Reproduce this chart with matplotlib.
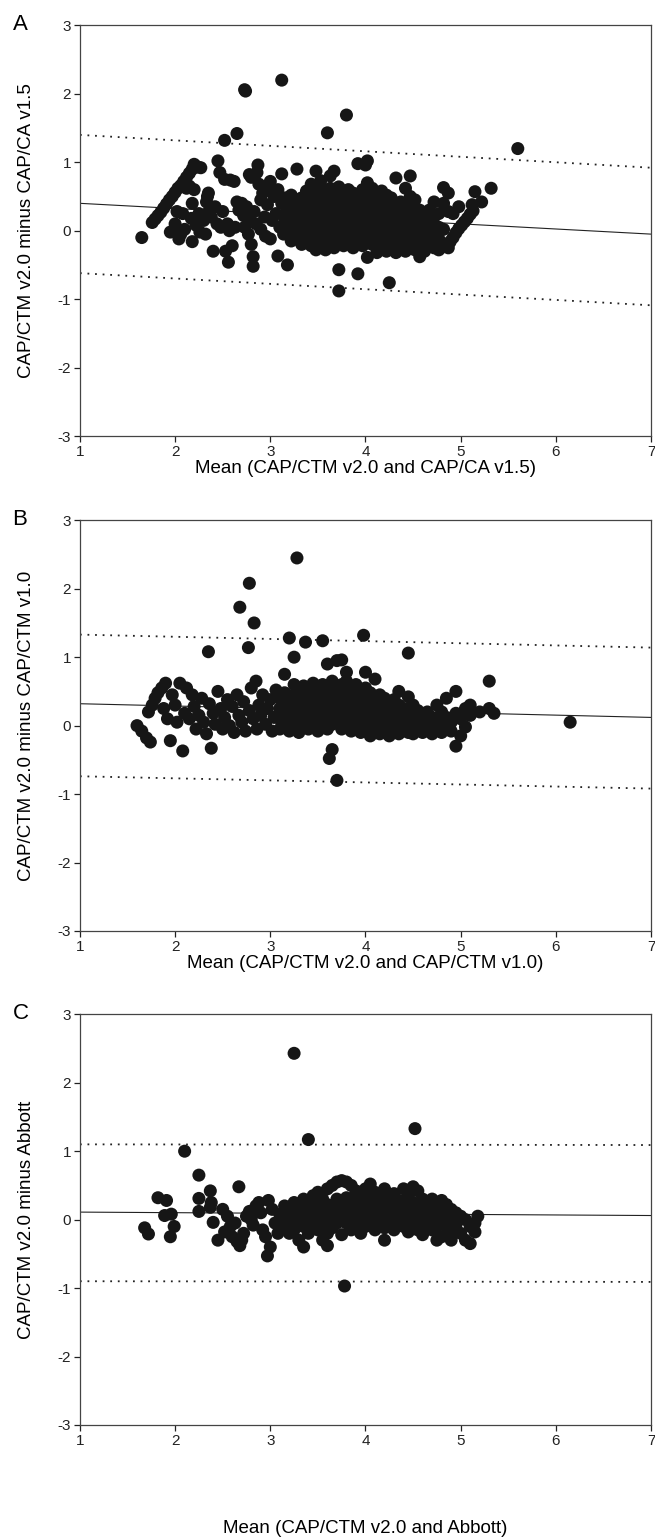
import numpy as np
import matplotlib
matplotlib.use("Agg")
import matplotlib.pyplot as plt

plt.rcParams['font.family'] = ['Liberation Sans', 'DejaVu Sans']
plt.rcParams['axes.unicode_minus'] = False

# ---------------- Panel A: v2.0 vs CAP/CA v1.5 ----------------
puntos_a = [
    (1.65, -0.10),
    (1.76, 0.12), (1.79, 0.17), (1.82, 0.22), (1.85, 0.27), (1.88, 0.33), (1.91, 0.39),
    (1.94, 0.45), (1.97, 0.50), (2.00, 0.56), (2.03, 0.62), (2.06, 0.66), (2.09, 0.72),
    (2.12, 0.78), (2.15, 0.84), (2.18, 0.90), (2.20, 0.97), (2.24, 0.93), (2.27, 0.92),
    (1.95, -0.02), (2.00, 0.10), (2.02, 0.28), (2.04, -0.12), (2.06, -0.05), (2.08, 0.25),
    (2.10, 0.02), (2.12, 0.62), (2.15, 0.65), (2.17, 0.18), (2.18, 0.40), (2.18, -0.16),
    (2.20, 0.60), (2.22, 0.08), (2.25, 0.25), (2.26, -0.02), (2.30, 0.15), (2.32, -0.05),
    (2.33, 0.42), (2.34, 0.50), (2.35, 0.55), (2.36, 0.30), (2.38, 0.20), (2.40, -0.30),
    (2.42, 0.35), (2.44, 0.10), (2.45, 1.02), (2.47, 0.85), (2.48, 0.05), (2.50, 0.28),
    (2.52, 0.75), (2.53, -0.30), (2.55, 0.10), (2.56, -0.46), (2.57, 0.00), (2.58, 0.74),
    (2.60, -0.22), (2.62, 0.72), (2.63, 0.05), (2.65, 0.42), (2.67, 0.30), (2.70, 0.40),
    (2.72, 0.22), (2.73, 0.05), (2.75, 0.35), (2.77, -0.05), (2.78, 0.82), (2.79, 0.15),
    (2.80, -0.20), (2.80, 0.78), (2.82, -0.38), (2.82, -0.52), (2.83, 0.28), (2.85, 0.10),
    (2.86, 0.85), (2.87, 0.96), (2.88, 0.68), (2.90, 0.45), (2.90, 0.02), (2.92, 0.55),
    (2.94, 0.20), (2.95, -0.08), (2.97, 0.38), (2.98, 0.62), (3.00, 0.72), (3.00, -0.12),
    (3.02, 0.15), (3.04, 0.50), (3.06, 0.25), (3.08, -0.37), (3.08, 0.60), (3.10, 0.05),
    (3.12, 0.83), (3.12, 0.40), (3.14, -0.05), (3.15, 0.18), (3.16, 0.48), (3.18, -0.50),
    (3.18, 0.30), (3.20, 0.10),
    (3.22, -0.15), (3.22, 0.02), (3.22, 0.20), (3.22, 0.38), (3.22, 0.52),
    (3.28, -0.05), (3.28, 0.12), (3.28, 0.28), (3.28, 0.45), (3.28, 0.90),
    (3.33, -0.20), (3.33, -0.02), (3.33, 0.15), (3.33, 0.32), (3.33, 0.48),
    (3.38, -0.12), (3.38, 0.05), (3.38, 0.22), (3.38, 0.40), (3.38, 0.58),
    (3.43, -0.22), (3.43, -0.05), (3.43, 0.10), (3.43, 0.28), (3.43, 0.45), (3.43, 0.68),
    (3.48, -0.28), (3.48, -0.10), (3.48, 0.05), (3.48, 0.20), (3.48, 0.35), (3.48, 0.52), (3.48, 0.87),
    (3.53, -0.20), (3.53, -0.02), (3.53, 0.15), (3.53, 0.30), (3.53, 0.46), (3.53, 0.62), (3.53, 0.73),
    (3.58, -0.28), (3.58, -0.12), (3.58, 0.05), (3.58, 0.22), (3.58, 0.38), (3.58, 0.55),
    (3.63, -0.18), (3.63, 0.00), (3.63, 0.15), (3.63, 0.30), (3.63, 0.45), (3.63, 0.62), (3.63, 0.80),
    (3.67, -0.25), (3.67, -0.08), (3.67, 0.10), (3.67, 0.25), (3.67, 0.40), (3.67, 0.55), (3.67, 0.87),
    (3.72, -0.57), (3.72, -0.88), (3.72, -0.15), (3.72, 0.02), (3.72, 0.18), (3.72, 0.34), (3.72, 0.50), (3.72, 0.64),
    (3.77, -0.22), (3.77, -0.05), (3.77, 0.12), (3.77, 0.28), (3.77, 0.44), (3.77, 0.58),
    (3.82, -0.18), (3.82, 0.00), (3.82, 0.15), (3.82, 0.30), (3.82, 0.46), (3.82, 0.60),
    (3.87, -0.25), (3.87, -0.08), (3.87, 0.08), (3.87, 0.24), (3.87, 0.40), (3.87, 0.55),
    (3.92, -0.63), (3.92, -0.15), (3.92, 0.02), (3.92, 0.18), (3.92, 0.34), (3.92, 0.50), (3.92, 0.98),
    (3.97, -0.22), (3.97, -0.05), (3.97, 0.12), (3.97, 0.28), (3.97, 0.44), (3.97, 0.60),
    (4.02, -0.39), (4.02, -0.12), (4.02, 0.05), (4.02, 0.20), (4.02, 0.36), (4.02, 0.52), (4.02, 0.70), (4.02, 1.02), (4.00, 0.96),
    (4.07, -0.20), (4.07, -0.02), (4.07, 0.15), (4.07, 0.30), (4.07, 0.46), (4.07, 0.62),
    (4.12, -0.32), (4.12, -0.10), (4.12, 0.08), (4.12, 0.24), (4.12, 0.40), (4.12, 0.56),
    (4.17, -0.25), (4.17, -0.05), (4.17, 0.12), (4.17, 0.28), (4.17, 0.44), (4.17, 0.58),
    (4.22, -0.30), (4.22, -0.12), (4.22, 0.05), (4.22, 0.20), (4.22, 0.36), (4.22, 0.52),
    (4.25, -0.76),
    (4.27, -0.20), (4.27, -0.02), (4.27, 0.15), (4.27, 0.32), (4.27, 0.48),
    (4.32, -0.32), (4.32, -0.12), (4.32, 0.05), (4.32, 0.22), (4.32, 0.38), (4.32, 0.77),
    (4.37, -0.25), (4.37, -0.05), (4.37, 0.12), (4.37, 0.28), (4.37, 0.42),
    (4.42, -0.30), (4.42, -0.12), (4.42, 0.05), (4.42, 0.20), (4.42, 0.35), (4.42, 0.62),
    (4.47, -0.20), (4.47, -0.02), (4.47, 0.15), (4.47, 0.30), (4.47, 0.50), (4.47, 0.80),
    (4.52, -0.28), (4.52, -0.10), (4.52, 0.08), (4.52, 0.22), (4.52, 0.45),
    (4.57, -0.38), (4.57, -0.18), (4.57, 0.00), (4.57, 0.15), (4.57, 0.30),
    (4.62, -0.30), (4.62, -0.10), (4.62, 0.08), (4.62, 0.24),
    (4.67, -0.22), (4.67, -0.02), (4.67, 0.15), (4.67, 0.30),
    (4.72, -0.25), (4.72, -0.08), (4.72, 0.10), (4.72, 0.42),
    (4.77, -0.28), (4.77, -0.12), (4.77, 0.05), (4.77, 0.25),
    (4.82, -0.20), (4.82, 0.02), (4.82, 0.40), (4.82, 0.63),
    (4.87, 0.28), (4.87, 0.55), (4.87, -0.25), (4.92, 0.25), (4.98, 0.35),
    (4.85, -0.22), (4.89, -0.16), (4.92, -0.10), (4.95, -0.03), (4.98, 0.03), (5.01, 0.08),
    (5.04, 0.13), (5.07, 0.18), (5.10, 0.24), (5.13, 0.29), (5.12, 0.38), (5.15, 0.57),
    (5.22, 0.42), (5.32, 0.62),
    (2.73, 2.06), (2.74, 2.04), (3.12, 2.20), (3.80, 1.69), (3.60, 1.43), (2.65, 1.42),
    (2.52, 1.32), (5.60, 1.20),
]
media_a = [0.40, -0.05]      # recta de sesgo en x=1 y x=7
sup_a = [1.40, 0.92]         # limite superior de concordancia
inf_a = [-0.62, -1.09]       # limite inferior

# ---------------- Panel B: v2.0 vs CAP/CTM v1.0 ----------------
puntos_b = [
    (1.60, 0.00), (1.65, -0.08), (1.70, -0.18), (1.74, -0.24), (1.72, 0.20), (1.76, 0.30),
    (1.79, 0.40), (1.82, 0.48), (1.86, 0.55), (1.90, 0.62), (1.88, 0.25), (1.92, 0.10),
    (1.95, -0.22), (1.97, 0.45), (2.00, 0.30), (2.02, 0.05), (2.05, 0.62), (2.08, -0.37),
    (2.10, 0.18), (2.12, 0.55), (2.15, 0.10), (2.18, 0.45), (2.20, 0.28), (2.22, -0.05),
    (2.25, 0.15), (2.28, 0.40), (2.30, 0.05), (2.33, -0.12), (2.35, 1.08), (2.36, 0.32),
    (2.38, -0.33), (2.40, 0.18), (2.42, 0.02), (2.45, 0.50), (2.48, 0.25), (2.50, -0.05),
    (2.52, 0.12), (2.55, 0.38), (2.57, 0.00), (2.60, 0.28), (2.62, -0.10), (2.65, 0.45),
    (2.67, 0.15), (2.68, 1.73), (2.70, 0.05), (2.72, 0.35), (2.74, -0.08), (2.77, 1.14),
    (2.78, 2.08), (2.78, 0.22), (2.80, 0.55), (2.82, 0.10), (2.83, 1.50), (2.85, 0.65),
    (2.86, -0.05), (2.88, 0.30), (2.90, 0.15), (2.92, 0.45), (2.95, 0.02), (2.97, 0.25),
    (3.00, 0.38), (3.02, -0.08), (3.04, 0.12), (3.06, 0.52),
    (3.10, -0.05), (3.10, 0.10), (3.10, 0.25), (3.10, 0.40),
    (3.15, 0.02), (3.15, 0.18), (3.15, 0.32), (3.15, 0.48), (3.15, 0.75),
    (3.20, -0.08), (3.20, 0.08), (3.20, 0.22), (3.20, 0.38), (3.20, 1.28),
    (3.25, 0.00), (3.25, 0.15), (3.25, 0.30), (3.25, 0.45), (3.25, 0.60), (3.25, 1.00),
    (3.28, 2.45),
    (3.30, -0.10), (3.30, 0.05), (3.30, 0.20), (3.30, 0.35), (3.30, 0.52),
    (3.35, 0.00), (3.35, 0.12), (3.35, 0.28), (3.35, 0.42), (3.35, 0.58), (3.37, 1.22),
    (3.40, -0.05), (3.40, 0.10), (3.40, 0.25), (3.40, 0.40), (3.40, 0.55),
    (3.45, 0.02), (3.45, 0.18), (3.45, 0.32), (3.45, 0.48), (3.45, 0.62),
    (3.50, -0.08), (3.50, 0.08), (3.50, 0.22), (3.50, 0.38), (3.50, 0.55),
    (3.55, 0.00), (3.55, 0.15), (3.55, 0.30), (3.55, 0.45), (3.55, 0.60), (3.55, 1.24),
    (3.60, -0.05), (3.60, 0.10), (3.60, 0.25), (3.60, 0.40), (3.60, 0.55), (3.60, 0.90),
    (3.62, -0.48),
    (3.65, -0.35), (3.65, 0.02), (3.65, 0.18), (3.65, 0.32), (3.65, 0.48), (3.65, 0.65),
    (3.70, -0.80), (3.70, 0.08), (3.70, 0.22), (3.70, 0.38), (3.70, 0.55), (3.70, 0.95),
    (3.75, -0.05), (3.75, 0.12), (3.75, 0.28), (3.75, 0.42), (3.75, 0.60), (3.75, 0.96),
    (3.80, 0.00), (3.80, 0.15), (3.80, 0.30), (3.80, 0.45), (3.80, 0.65), (3.80, 0.78),
    (3.85, -0.08), (3.85, 0.08), (3.85, 0.22), (3.85, 0.38), (3.85, 0.55),
    (3.90, -0.02), (3.90, 0.12), (3.90, 0.28), (3.90, 0.42), (3.90, 0.60),
    (3.95, -0.10), (3.95, 0.05), (3.95, 0.20), (3.95, 0.35), (3.95, 0.50),
    (3.98, 1.32),
    (4.00, -0.05), (4.00, 0.10), (4.00, 0.25), (4.00, 0.40), (4.00, 0.55), (4.00, 0.78),
    (4.05, -0.15), (4.05, 0.02), (4.05, 0.18), (4.05, 0.32), (4.05, 0.48),
    (4.10, -0.08), (4.10, 0.08), (4.10, 0.22), (4.10, 0.38), (4.10, 0.68),
    (4.15, -0.12), (4.15, 0.02), (4.15, 0.15), (4.15, 0.30), (4.15, 0.45),
    (4.20, -0.05), (4.20, 0.10), (4.20, 0.25), (4.20, 0.40),
    (4.25, -0.15), (4.25, 0.00), (4.25, 0.15), (4.25, 0.30),
    (4.30, -0.08), (4.30, 0.08), (4.30, 0.22), (4.30, 0.38),
    (4.35, -0.12), (4.35, 0.02), (4.35, 0.15), (4.35, 0.30), (4.35, 0.50),
    (4.40, -0.05), (4.40, 0.10), (4.40, 0.25),
    (4.45, -0.10), (4.45, 0.05), (4.45, 0.20), (4.45, 0.42), (4.45, 1.06),
    (4.50, -0.12), (4.50, 0.00), (4.50, 0.15), (4.50, 0.30),
    (4.55, -0.05), (4.55, 0.10), (4.55, 0.22),
    (4.60, -0.10), (4.60, 0.02), (4.60, 0.15),
    (4.65, -0.05), (4.65, 0.08), (4.65, 0.20),
    (4.70, -0.12), (4.70, 0.02), (4.70, 0.12),
    (4.75, -0.05), (4.75, 0.08), (4.75, 0.30),
    (4.80, -0.10), (4.80, 0.05), (4.80, 0.20),
    (4.85, 0.00), (4.85, 0.12), (4.85, 0.40),
    (4.90, -0.08), (4.90, 0.05),
    (4.95, -0.30), (4.95, 0.18), (4.95, 0.50),
    (5.00, -0.15), (5.00, 0.10), (5.05, -0.02), (5.05, 0.25), (5.10, 0.15), (5.10, 0.30),
    (5.20, 0.20), (5.30, 0.65), (5.30, 0.25), (5.35, 0.18), (6.15, 0.05),
]
media_b = [0.32, 0.12]
sup_b = [1.33, 1.14]
inf_b = [-0.74, -0.92]

# ---------------- Panel C: v2.0 vs Abbott ----------------
puntos_c = [
    (3.25, 2.43), (3.40, 1.17), (4.52, 1.33), (2.10, 1.00), (3.78, -0.97),
    (1.68, -0.12), (1.72, -0.21), (1.82, 0.32), (1.91, 0.28), (1.89, 0.06), (1.96, 0.08),
    (1.99, -0.10), (1.95, -0.25), (2.25, 0.65), (2.25, 0.31), (2.25, 0.12), (2.37, 0.42),
    (2.38, 0.25), (2.37, 0.18), (2.67, 0.48),
    (2.40, -0.04), (2.45, -0.30), (2.50, 0.15), (2.52, -0.18), (2.55, 0.05), (2.58, -0.10),
    (2.60, -0.25), (2.63, -0.05), (2.65, -0.32), (2.68, -0.38), (2.70, -0.30), (2.72, -0.20),
    (2.75, 0.05), (2.78, 0.12), (2.80, 0.00), (2.82, -0.08), (2.85, 0.20), (2.88, 0.25),
    (2.90, 0.10), (2.92, -0.15), (2.95, -0.25), (2.97, -0.53), (2.98, 0.28), (3.00, -0.40),
    (3.02, 0.15), (3.05, -0.05), (3.08, -0.20),
    (3.10, -0.05), (3.10, 0.08),
    (3.15, 0.12), (3.15, -0.10), (3.15, 0.20),
    (3.20, 0.00), (3.20, 0.10), (3.20, -0.20),
    (3.25, 0.25), (3.25, 0.05), (3.25, -0.15),
    (3.30, 0.18), (3.30, -0.05), (3.30, -0.30),
    (3.35, 0.30), (3.35, 0.08), (3.35, -0.10), (3.35, -0.40),
    (3.40, 0.22), (3.40, 0.02), (3.40, -0.20),
    (3.45, 0.35), (3.45, 0.12), (3.45, -0.05),
    (3.50, 0.20), (3.50, 0.00), (3.50, -0.15), (3.50, 0.40),
    (3.55, 0.30), (3.55, 0.10), (3.55, -0.08), (3.55, -0.30),
    (3.60, 0.45), (3.60, 0.22), (3.60, 0.05), (3.60, -0.20), (3.60, -0.38),
    (3.65, 0.50), (3.65, 0.15), (3.65, 0.00), (3.65, -0.12),
    (3.70, 0.55), (3.70, 0.30), (3.70, 0.10), (3.70, -0.05),
    (3.75, 0.57), (3.75, 0.25), (3.75, 0.05), (3.75, -0.22),
    (3.80, 0.55), (3.80, 0.32), (3.80, 0.12), (3.80, -0.05),
    (3.85, 0.50), (3.85, 0.20), (3.85, 0.02), (3.85, -0.15),
    (3.90, 0.42), (3.90, 0.28), (3.90, 0.10), (3.90, -0.08),
    (3.95, 0.35), (3.95, 0.15), (3.95, 0.00), (3.95, -0.20),
    (4.00, 0.45), (4.00, 0.25), (4.00, 0.08), (4.00, -0.10),
    (4.05, 0.52), (4.05, 0.30), (4.05, 0.12), (4.05, -0.05),
    (4.10, 0.40), (4.10, 0.20), (4.10, 0.02), (4.10, -0.15),
    (4.15, 0.35), (4.15, 0.15), (4.15, -0.05),
    (4.20, 0.45), (4.20, 0.25), (4.20, 0.05), (4.20, -0.12), (4.20, -0.30),
    (4.25, 0.30), (4.25, 0.10), (4.25, -0.08),
    (4.30, 0.38), (4.30, 0.20), (4.30, 0.02), (4.30, -0.15),
    (4.35, 0.28), (4.35, 0.10), (4.35, -0.05),
    (4.40, 0.45), (4.40, 0.22), (4.40, 0.05), (4.40, -0.10),
    (4.45, 0.35), (4.45, 0.15), (4.45, -0.02), (4.45, -0.18),
    (4.50, 0.48), (4.50, 0.25), (4.50, 0.08), (4.50, -0.08),
    (4.55, 0.42), (4.55, 0.18), (4.55, 0.00), (4.55, -0.15),
    (4.60, 0.30), (4.60, 0.12), (4.60, -0.05), (4.60, -0.22),
    (4.65, 0.25), (4.65, 0.05), (4.65, -0.12),
    (4.70, 0.30), (4.70, 0.15), (4.70, -0.02), (4.70, -0.15),
    (4.75, 0.18), (4.75, 0.02), (4.75, -0.10), (4.75, -0.30),
    (4.80, 0.28), (4.80, 0.10), (4.80, -0.05), (4.80, -0.25),
    (4.85, 0.22), (4.85, 0.05), (4.85, -0.10),
    (4.90, 0.15), (4.90, 0.00), (4.90, -0.15), (4.90, -0.30),
    (4.95, 0.10), (4.95, -0.08),
    (5.00, 0.05), (5.00, -0.20),
    (5.05, -0.30), (5.05, 0.00),
    (5.10, -0.35), (5.10, -0.10),
    (5.15, -0.18), (5.15, -0.05), (5.18, 0.05),
]
media_c = [0.11, 0.06]
sup_c = [1.10, 1.09]
inf_c = [-0.90, -0.91]

extremos_x = [1, 7]

paneles = [
    ("A", puntos_a, media_a, sup_a, inf_a,
     "CAP/CTM v2.0 minus CAP/CA v1.5", "Mean (CAP/CTM v2.0 and CAP/CA v1.5)", 1),
    ("B", puntos_b, media_b, sup_b, inf_b,
     "CAP/CTM v2.0 minus CAP/CTM v1.0", "Mean (CAP/CTM v2.0 and CAP/CTM v1.0)", 1),
    ("C", puntos_c, media_c, sup_c, inf_c,
     "CAP/CTM v2.0 minus Abbott", "Mean (CAP/CTM v2.0 and Abbott)", 52),
]

fig = plt.figure(figsize=(6.55, 15.38), dpi=100)
fondos = [0.7165, 0.3947, 0.0735]

for (letra, puntos, media, sup, inf, ylab, xlab, sep), abajo in zip(paneles, fondos):
    ax = fig.add_axes([0.122, abajo, 0.872, 0.267])
    xs, ys = np.array(puntos).T
    ax.plot(extremos_x, sup, color='#222222', linestyle=(0, (1, 3.2)), linewidth=1.3)
    ax.plot(extremos_x, inf, color='#222222', linestyle=(0, (1, 3.2)), linewidth=1.3)
    ax.plot(extremos_x, media, color='#222222', linewidth=0.8)
    ax.scatter(xs, ys, s=88, color='#161616', edgecolors='none', zorder=3)

    ax.set_xlim(1, 7)
    ax.set_ylim(-3, 3)
    ax.set_xticks(range(1, 8))
    ax.set_yticks(range(-3, 4))
    ax.tick_params(direction='out', length=4, width=0.9, pad=2.5, labelsize=11, colors='#222222')
    for lado in ax.spines.values():
        lado.set_color('#444444')
        lado.set_linewidth(0.9)
    ax.set_ylabel(ylab, fontsize=13.5, labelpad=16)
    ax.set_xlabel(xlab, fontsize=13.5, labelpad=sep)
    ax.text(-0.118, 0.988, letra, transform=ax.transAxes, fontsize=16, va='baseline', ha='left')

fig.savefig("out.png", dpi=100)
